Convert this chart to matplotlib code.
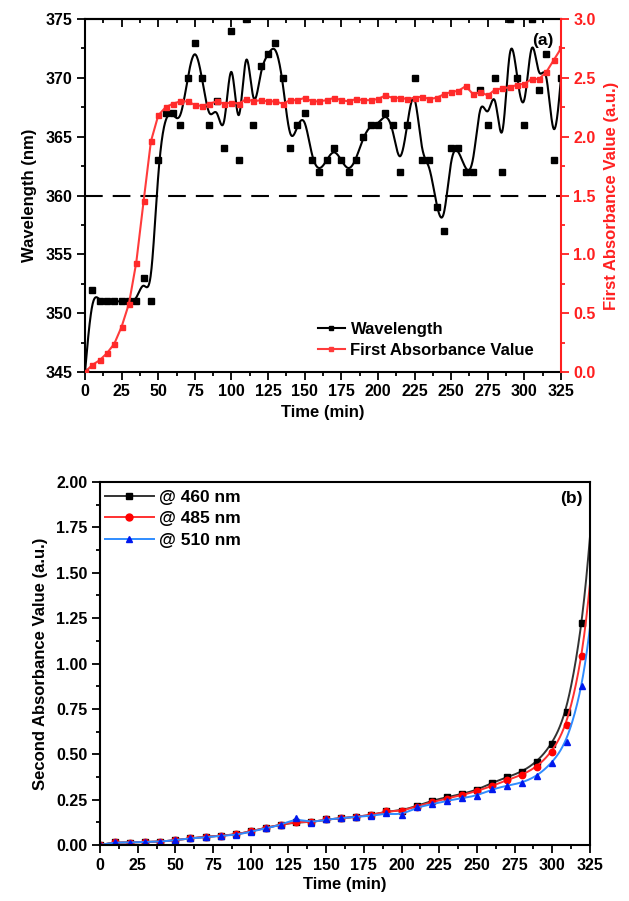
import numpy as np
import matplotlib
matplotlib.use("Agg")
import matplotlib.pyplot as plt
from matplotlib.lines import Line2D
from matplotlib.ticker import MultipleLocator, FormatStrFormatter

plt.rcParams['font.family'] = ['Liberation Sans', 'DejaVu Sans']
plt.rcParams['font.weight'] = 'bold'
plt.rcParams['axes.labelweight'] = 'bold'
plt.rcParams['font.size'] = 11.5

# ---- panel (a) data ----
time_a = np.arange(0, 330, 5)
wavelength = [345, 352, 351, 351, 351, 351, 351, 351, 353, 351,
              363, 367, 367, 366, 370, 373, 370, 366, 368, 364,
              374, 363, 375, 366, 371, 372, 373, 370, 364, 366,
              367, 363, 362, 363, 364, 363, 362, 363, 365, 366,
              366, 367, 366, 362, 366, 370, 363, 363, 359, 357,
              364, 364, 362, 362, 369, 366, 370, 362, 375, 370,
              366, 375, 369, 372, 363, 370]
first_abs = [0.00, 0.06, 0.10, 0.16, 0.24, 0.385, 0.58, 0.93, 1.45, 1.96,
             2.18, 2.25, 2.28, 2.30, 2.30, 2.27, 2.26, 2.28, 2.30, 2.28,
             2.29, 2.28, 2.32, 2.30, 2.31, 2.30, 2.30, 2.28, 2.31, 2.31,
             2.33, 2.30, 2.30, 2.31, 2.33, 2.31, 2.30, 2.32, 2.31, 2.31,
             2.32, 2.35, 2.33, 2.33, 2.32, 2.33, 2.34, 2.32, 2.33, 2.36,
             2.38, 2.39, 2.43, 2.36, 2.38, 2.35, 2.40, 2.41, 2.42, 2.44,
             2.45, 2.49, 2.49, 2.55, 2.65, 2.75]

# ---- panel (b) data ----
time_b = list(range(0, 330, 10)) + [325]
abs_460 = [0.000, 0.015, 0.013, 0.018, 0.018, 0.027, 0.037, 0.045, 0.051, 0.058,
           0.075, 0.095, 0.112, 0.125, 0.125, 0.141, 0.147, 0.156, 0.165, 0.185,
           0.190, 0.215, 0.244, 0.263, 0.281, 0.303, 0.343, 0.373, 0.404, 0.459,
           0.556, 0.734, 1.221, 1.700]
abs_485 = [0.000, 0.015, 0.013, 0.018, 0.018, 0.027, 0.037, 0.045, 0.051, 0.058,
           0.075, 0.095, 0.112, 0.128, 0.125, 0.141, 0.147, 0.156, 0.165, 0.185,
           0.188, 0.212, 0.236, 0.255, 0.275, 0.297, 0.325, 0.358, 0.386, 0.431,
           0.514, 0.661, 1.041, 1.440]
abs_510 = [0.000, 0.015, 0.013, 0.018, 0.018, 0.027, 0.037, 0.042, 0.051, 0.055,
           0.073, 0.092, 0.110, 0.147, 0.123, 0.141, 0.147, 0.156, 0.160, 0.175,
           0.165, 0.208, 0.224, 0.244, 0.257, 0.272, 0.307, 0.327, 0.343, 0.380,
           0.453, 0.569, 0.876, 1.200]


def bspline(x, y, n=24):
    # uniform cubic B-spline using the data as control points (clamped ends)
    px = np.r_[x[0], x[0], x, x[-1], x[-1]].astype(float)
    py = np.r_[y[0], y[0], y, y[-1], y[-1]].astype(float)
    u = np.linspace(0, 1, n, endpoint=False)
    b0 = (1 - u) ** 3 / 6
    b1 = (3 * u ** 3 - 6 * u ** 2 + 4) / 6
    b2 = (-3 * u ** 3 + 3 * u ** 2 + 3 * u + 1) / 6
    b3 = u ** 3 / 6
    xs, ys = [], []
    for i in range(len(px) - 3):
        xs.append(b0 * px[i] + b1 * px[i + 1] + b2 * px[i + 2] + b3 * px[i + 3])
        ys.append(b0 * py[i] + b1 * py[i + 1] + b2 * py[i + 2] + b3 * py[i + 3])
    xs.append([px[-1]])
    ys.append([py[-1]])
    return np.concatenate(xs), np.concatenate(ys)


fig = plt.figure(figsize=(6.29, 9.01), dpi=100)

# ================= panel (a) =================
ax1 = fig.add_axes([85 / 629, 1 - 372 / 901, 476 / 629, 353 / 901])
sx, sy = bspline(time_a, wavelength)
ax1.plot(sx, sy, color='black', lw=1.5)
ax1.plot(time_a, wavelength, 's', color='black', ms=4.2)
ax1.axhline(360, color='black', lw=1.5, dashes=(8.5, 4.8))
ax1.set_xlim(0, 325)
ax1.set_ylim(345, 375)
ax1.xaxis.set_major_locator(MultipleLocator(25))
ax1.xaxis.set_minor_locator(MultipleLocator(12.5))
ax1.yaxis.set_major_locator(MultipleLocator(5))
ax1.yaxis.set_minor_locator(MultipleLocator(2.5))
ax1.tick_params(which='major', direction='out', length=5.5, width=1.3)
ax1.tick_params(which='minor', direction='out', length=3, width=1.3)
ax1.spines['right'].set_visible(False)
for s in ['left', 'bottom', 'top']:
    ax1.spines[s].set_linewidth(1.5)
ax1.set_xlabel('Time (min)', fontsize=12, labelpad=4)
ax1.set_ylabel('Wavelength (nm)', fontsize=12, labelpad=6)

top = ax1.secondary_xaxis('top')
top.xaxis.set_major_locator(MultipleLocator(25))
top.xaxis.set_minor_locator(MultipleLocator(12.5))
top.tick_params(which='major', direction='in', length=5.5, width=1.3, labeltop=False)
top.tick_params(which='minor', direction='in', length=3, width=1.3)
top.spines['top'].set_linewidth(1.5)

ax1r = ax1.twinx()
ax1r.plot(time_a, first_abs, '-s', color='#ff3b3b', lw=1.5, ms=3.6,
          mfc='#ff2a2a', mec='#ff2a2a')
ax1r.set_ylim(0, 3.0)
ax1r.set_xlim(0, 325)
ax1r.yaxis.set_major_locator(MultipleLocator(0.5))
ax1r.yaxis.set_minor_locator(MultipleLocator(0.25))
ax1r.yaxis.set_major_formatter(FormatStrFormatter('%.1f'))
ax1r.tick_params(axis='y', which='both', colors='#ff2020', width=1.3)
ax1r.tick_params(axis='y', which='major', length=5.5)
ax1r.tick_params(axis='y', which='minor', length=3)
ax1r.spines['right'].set_color('#ff2020')
ax1r.spines['right'].set_linewidth(1.5)
for s in ['left', 'top', 'bottom']:
    ax1r.spines[s].set_visible(False)
ax1r.set_ylabel('First Absorbance Value (a.u.)', color='#ff2020', fontsize=12, labelpad=6)

ax1.text(0.985, 0.96, '(a)', transform=ax1.transAxes, ha='right', va='top', fontsize=12.5)

leg_a = [Line2D([], [], color='black', lw=1.5, marker='s', ms=3),
         Line2D([], [], color='#ff3b3b', lw=1.5, marker='s', ms=3)]
fig.legend(leg_a, ['Wavelength', 'First Absorbance Value'], frameon=False,
           loc='upper left', bbox_to_anchor=(318 / 629, 1 - 322 / 901),
           borderpad=0, borderaxespad=0, handlelength=1.6, handletextpad=0.35,
           labelspacing=0.35, fontsize=12)

# ================= panel (b) =================
ax2 = fig.add_axes([100 / 629, 1 - 845 / 901, 490 / 629, 363 / 901])
series = [(abs_460, '#333333', 'black', 's', '@ 460 nm'),
          (abs_485, '#ff3030', '#ff0000', 'o', '@ 485 nm'),
          (abs_510, '#2f8cff', '#0018ee', '^', '@ 510 nm')]
handles = []
for vals, lc, mc, mk, lab in series:
    bx, by = bspline(time_b, vals)
    ax2.plot(bx, by, color=lc, lw=1.4)
    ax2.plot(time_b[:-1], vals[:-1], mk, color=mc, ms=4.6)
    handles.append(Line2D([], [], color=lc, lw=1.4, marker=mk, mfc=mc, mec=mc, ms=5))

ax2.set_xlim(0, 325)
ax2.set_ylim(0, 2.0)
ax2.xaxis.set_major_locator(MultipleLocator(25))
ax2.xaxis.set_minor_locator(MultipleLocator(12.5))
ax2.yaxis.set_major_locator(MultipleLocator(0.25))
ax2.yaxis.set_minor_locator(MultipleLocator(0.125))
ax2.yaxis.set_major_formatter(FormatStrFormatter('%.2f'))
ax2.tick_params(which='major', direction='out', length=5.5, width=1.3)
ax2.tick_params(which='minor', direction='out', length=3, width=1.3)
for s in ax2.spines.values():
    s.set_linewidth(1.5)
ax2.set_xlabel('Time (min)', fontsize=12, labelpad=3)
ax2.set_ylabel('Second Absorbance Value (a.u.)', fontsize=12, labelpad=6)
ax2.text(0.985, 0.975, '(b)', transform=ax2.transAxes, ha='right', va='top', fontsize=12.5)
ax2.legend(handles, [h[4] for h in series], frameon=False, loc='upper left',
           bbox_to_anchor=(105 / 629, 1 - 490 / 901), bbox_transform=fig.transFigure,
           borderpad=0, borderaxespad=0, handlelength=2.8, handletextpad=0.3,
           labelspacing=0.35, fontsize=12.5)

fig.savefig('out.png', dpi=100)
